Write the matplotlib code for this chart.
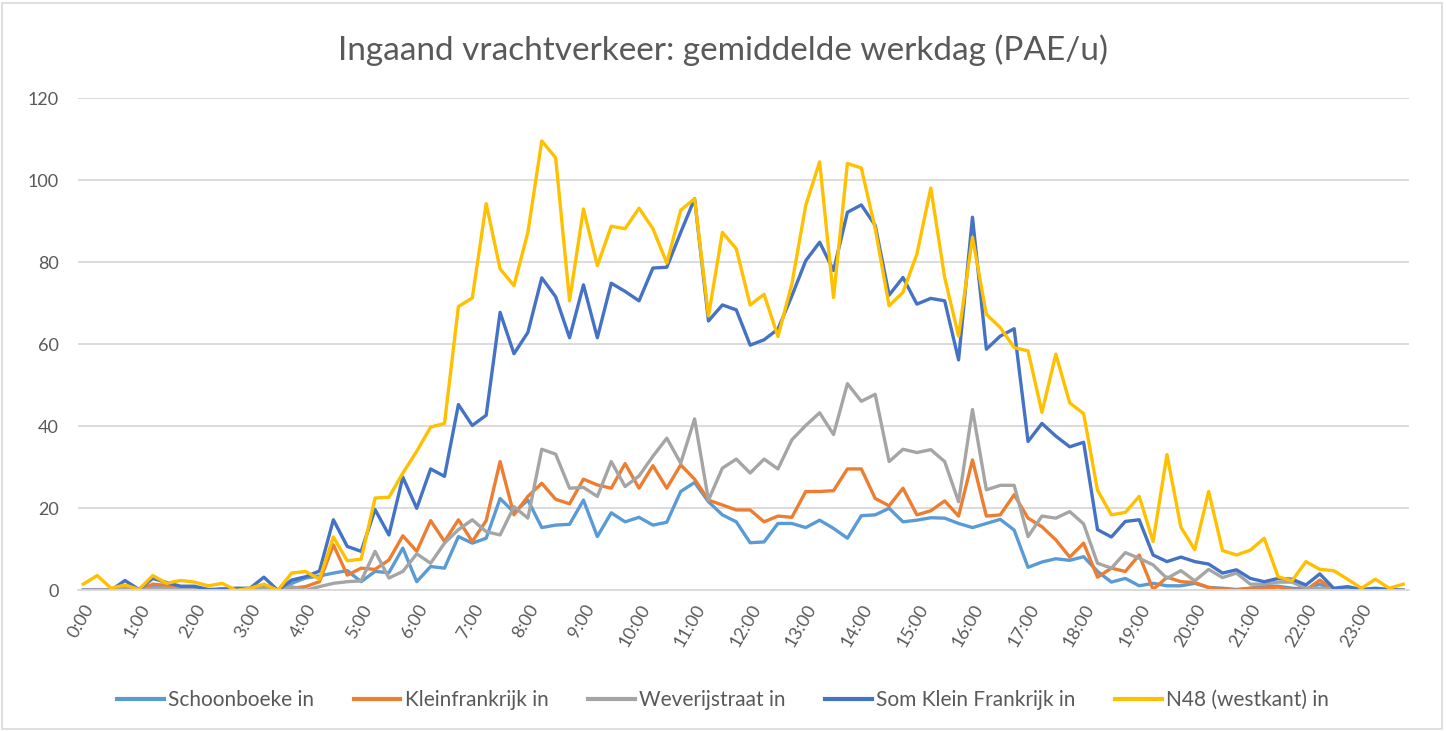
import matplotlib
matplotlib.use("Agg")
import matplotlib.pyplot as plt
from matplotlib.patches import Rectangle

plt.rcParams['font.family'] = ['Lato', 'DejaVu Sans']

# 15-minute categories over one day
times = [f"{h}:{m:02d}" for h in range(24) for m in (0, 15, 30, 45)]
tick_labels = [f"{h}:00" for h in range(24)]

schoonboeke = [
    0, 0, 0, 0.5, 0, 1, 0.5, 0.5, 0.5, 0, 0.3, 0, 0.3, 0.8, 0, 1.7,
    3, 3.5, 4.2, 4.8, 2.1, 4.6, 4.3, 10.3, 2.1, 5.8, 5.4, 13.1, 11.5, 12.7, 22.4, 19,
    22, 15.3, 15.9, 16.1, 22, 13.1, 18.9, 16.7, 17.8, 15.9, 16.6, 24.1, 26.3, 21.6, 18.4, 16.7,
    11.6, 11.8, 16.3, 16.3, 15.3, 17.1, 15.1, 12.7, 18.2, 18.4, 20, 16.7, 17.1, 17.7, 17.6, 16.3,
    15.3, 16.3, 17.3, 14.7, 5.6, 6.9, 7.7, 7.3, 8.2, 4.6, 2, 2.9, 1.1, 1.7, 1.1, 1.1,
    1.7, 0.7, 0.5, 0.2, 0.5, 1, 1, 0.5, 0.3, 1.5, 0, 0, 0, 0, 0, 0,
]
kleinfrankrijk = [
    0, 0, 0, 1, 0, 1.5, 1.2, 0.5, 0.5, 0, 0.3, 0, 0, 0.5, 0, 0.5,
    0.9, 2.1, 11.1, 3.7, 5.4, 5.1, 7.4, 13.3, 9.5, 17, 11.9, 17.2, 11.9, 17, 31.4, 18.4,
    22.9, 26.1, 22.2, 21.1, 27.1, 25.7, 24.9, 30.9, 24.9, 30.4, 24.9, 30.6, 27.1, 22, 20.8, 19.6,
    19.6, 16.7, 18.1, 17.8, 24.1, 24.1, 24.3, 29.6, 29.6, 22.4, 20.6, 24.9, 18.4, 19.4, 21.8, 18.1,
    31.8, 18.1, 18.4, 23.3, 17.6, 15.5, 12.3, 8.1, 11.5, 3.2, 5.4, 4.6, 8.6, 0.2, 3.2, 2.1,
    1.9, 0.7, 0.2, 0, 0.5, 0.5, 0.8, 0, 0, 2.5, 0, 0, 0, 0, 0, 0,
]
weverijstraat = [
    0, 0, 0, 0.5, 0, 0.5, 0.5, 0.3, 0.3, 0, 0, 0, 0, 0.5, 0, 0.9,
    0, 0.9, 1.7, 2.1, 2.3, 9.5, 3, 4.6, 8.9, 6.6, 11.5, 14.8, 17.2, 14.3, 13.5, 20.4,
    17.6, 34.4, 33.2, 24.9, 25.1, 22.9, 31.4, 25.3, 27.9, 32.7, 37.1, 31, 41.8, 22, 29.8, 32,
    28.6, 32, 29.6, 36.7, 40.2, 43.3, 38, 50.4, 46.1, 47.8, 31.4, 34.4, 33.6, 34.3, 31.4, 21.6,
    44.1, 24.5, 25.6, 25.6, 13.1, 18.1, 17.6, 19.2, 16.2, 6.6, 5.4, 9.2, 7.8, 6.2, 2.9, 4.8,
    2.3, 5.1, 3.1, 4.2, 1.5, 1.5, 2, 2, 0.5, 0.5, 0.3, 0.5, 0, 0.3, 0, 0,
]
som_klein_frankrijk = [
    0, 0, 0, 2.4, 0.2, 2.9, 1.9, 1, 1, 0.2, 0.3, 0.5, 0.5, 3.2, 0, 2.5,
    3.3, 4.7, 17.2, 10.7, 9.5, 19.7, 13.5, 27.6, 20, 29.6, 27.8, 45.3, 40.2, 42.7, 67.8, 57.7,
    62.9, 76.2, 71.6, 61.6, 74.5, 61.6, 74.9, 72.9, 70.6, 78.6, 78.8, 87.3, 95.5, 65.7, 69.6, 68.4,
    59.8, 61.1, 63.7, 71.8, 80.4, 84.9, 78, 92.2, 94, 89, 72, 76.3, 69.8, 71.2, 70.6, 56.2,
    91, 58.8, 62, 63.8, 36.3, 40.7, 37.6, 35, 36.1, 14.8, 13, 16.8, 17.2, 8.6, 7, 8.1,
    7, 6.4, 4.2, 5, 2.9, 2.1, 2.9, 2.7, 1.3, 4, 0.5, 0.9, 0.2, 0.5, 0.2, 0,
]
n48_westkant = [
    1.5, 3.6, 0.5, 1.3, 0.2, 3.6, 1.7, 2.4, 2, 1.1, 1.7, 0, 0.5, 1.5, 0, 4.2,
    4.6, 2.7, 13, 7.2, 7.6, 22.5, 22.7, 28.6, 33.9, 39.8, 40.7, 69.2, 71.3, 94.3, 78.4, 74.3,
    87.3, 109.6, 105.5, 70.6, 93, 79.2, 88.8, 88.2, 93.2, 88.2, 79.8, 92.7, 95.5, 66.9, 87.3, 83.3,
    69.6, 72.2, 61.9, 74.7, 93.9, 104.5, 71.4, 104.1, 103, 88.2, 69.4, 72.7, 82, 98.1, 76.3, 62,
    86.1, 67.3, 64.1, 59.2, 58.4, 43.4, 57.6, 45.7, 43.1, 24.4, 18.4, 19, 22.9, 11.9, 33.1, 15.4,
    9.9, 24.1, 9.7, 8.6, 9.8, 12.7, 3.3, 2.3, 7, 5.1, 4.8, 2.7, 0.5, 2.7, 0.5, 1.5,
]

series = [
    ("Schoonboeke in", schoonboeke, "#5B9BD5"),
    ("Kleinfrankrijk in", kleinfrankrijk, "#ED7D31"),
    ("Weverijstraat in", weverijstraat, "#A5A5A5"),
    ("Som Klein Frankrijk in", som_klein_frankrijk, "#4472C4"),
    ("N48 (westkant) in", n48_westkant, "#FFC000"),
]

W, H = 1446, 731
fig = plt.figure(figsize=(W / 100, H / 100), dpi=100)
left, right, top, bottom = 78, 1409, 98.3, 590.3
ax = fig.add_axes([left / W, 1 - bottom / H, (right - left) / W, (bottom - top) / H])

x = list(range(len(times)))
for name, vals, col in series:
    ax.plot(x, vals, color=col, lw=2.4, label=name, solid_joinstyle='round')

ax.set_ylim(0, 120)
ax.set_xlim(-0.38, len(times) - 1 + 0.42)
ax.set_yticks(range(0, 121, 20))
ax.set_xticks(x[::4])
ax.set_xticklabels(tick_labels, rotation=60, ha='right', rotation_mode='anchor')
ax.tick_params(axis='both', length=0, labelsize=13, colors='#595959')
ax.tick_params(axis='x', pad=8)
ax.tick_params(axis='y', pad=14)
ax.grid(axis='y', color='#D9D9D9', lw=1.3)
ax.set_axisbelow(True)
for s in ('top', 'right', 'left'):
    ax.spines[s].set_visible(False)
ax.spines['bottom'].set_color('#D9D9D9')
ax.spines['bottom'].set_linewidth(1.3)

fig.text(0.5, 1 - 50 / H, "Ingaand vrachtverkeer: gemiddelde werkdag (PAE/u)",
         ha='center', va='center', fontsize=24, color='#595959')

leg = fig.legend(loc='center', bbox_to_anchor=(0.5, 1 - 700 / H), ncol=5, frameon=False,
                 fontsize=15, handlelength=2.25, columnspacing=1.9, handletextpad=0.2)
for t in leg.get_texts():
    t.set_color('#595959')
for l in leg.get_lines():
    l.set_linewidth(3)

fig.patches.append(Rectangle((2 / W, 2 / H), (W - 6) / W, (H - 5) / H, transform=fig.transFigure,
                             fill=False, edgecolor='#D9D9D9', lw=1.2))

fig.savefig("out.png", dpi=100)
